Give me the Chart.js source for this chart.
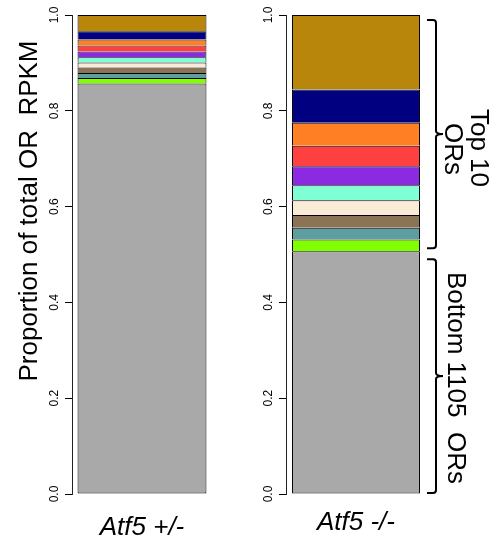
<!DOCTYPE html>
<html>
<head>
<meta charset="utf-8">
<script src="https://cdn.jsdelivr.net/npm/chart.js@4.4.1/dist/chart.umd.min.js"></script>
<style>
  body { margin: 0; background: #fff; }
  #wrap { position: relative; width: 502px; height: 545px; }
  canvas { position: absolute; top: 0; }
</style>
</head>
<body>
<div id="wrap">
  <canvas id="left" width="230" height="545" style="left:0"></canvas>
  <canvas id="right" width="272" height="545" style="left:230px"></canvas>
</div>
<script>
// bottom segment first, then the top 10 ORs from 10th up to 1st
const orGroups = ['Bottom 1105 ORs', 'OR 10', 'OR 9', 'OR 8', 'OR 7', 'OR 6', 'OR 5', 'OR 4', 'OR 3', 'OR 2', 'OR 1'];
const hetValues = [0.857, 0.0117, 0.0104, 0.0113, 0.0104, 0.011, 0.0119, 0.0125, 0.0125, 0.0173, 0.034];
const koValues = [0.507, 0.0244, 0.0242, 0.0271, 0.0307, 0.0313, 0.0397, 0.0424, 0.048, 0.0697, 0.1555];
const sampleLabels = ['Atf5 +/-', 'Atf5 -/-'];
const yTicks = [0, 0.2, 0.4, 0.6, 0.8, 1.0];

const orColors = ['#A9A9A9', '#7FFF00', '#5F9EA0', '#8B7355', '#FAEBD7', '#7FFFD4',
                  '#8A2BE2', '#FF4040', '#FF7F24', '#000080', '#B8860B'];
const FONT = "'Liberation Sans', Arial, sans-serif";

// R style rotated tick labels, drawn from the y scale
const yLabels = {
    id: 'yLabels',
    afterDraw(chart) {
        const ctx = chart.ctx, y = chart.scales.y;
        ctx.save();
        ctx.fillStyle = '#000';
        ctx.font = '12px ' + FONT;
        ctx.textAlign = 'center';
        ctx.textBaseline = 'middle';
        yTicks.forEach(v => {
            ctx.save();
            ctx.translate(chart.chartArea.left - 17, y.getPixelForValue(v));
            ctx.rotate(-Math.PI / 2);
            ctx.fillText(v.toFixed(1), 0, 0);
            ctx.restore();
        });
        ctx.restore();
    }
};

function rotText(ctx, txt, x, y, angle) {
    ctx.save();
    ctx.translate(x, y);
    ctx.rotate(angle);
    ctx.fillText(txt, 0, 0);
    ctx.restore();
}

const yTitle = {
    id: 'yTitle',
    afterDraw(chart) {
        const ctx = chart.ctx;
        ctx.save();
        ctx.fillStyle = '#000';
        ctx.font = '26px ' + FONT;
        ctx.textAlign = 'center';
        ctx.textBaseline = 'alphabetic';
        rotText(ctx, 'Proportion of total OR  RPKM', 37, 211, -Math.PI / 2);
        ctx.restore();
    }
};

function brace(ctx, x, y1, y2) {
    const r = 3, w = 9, tip = 7, ym = (y1 + y2) / 2;
    ctx.beginPath();
    ctx.moveTo(x - w, y1);
    ctx.lineTo(x - r, y1);
    ctx.quadraticCurveTo(x, y1, x, y1 + r);
    ctx.lineTo(x, ym - r);
    ctx.quadraticCurveTo(x, ym, x + tip, ym);
    ctx.quadraticCurveTo(x, ym, x, ym + r);
    ctx.lineTo(x, y2 - r);
    ctx.quadraticCurveTo(x, y2, x - r, y2);
    ctx.lineTo(x - w, y2);
    ctx.stroke();
}

const braces = {
    id: 'braces',
    afterDraw(chart) {
        const ctx = chart.ctx, y = chart.scales.y;
        const split = y.getPixelForValue(koValues[0]);
        const x = chart.chartArea.right + 10;
        ctx.save();
        ctx.strokeStyle = '#000';
        ctx.lineWidth = 2;
        brace(ctx, x, y.getPixelForValue(1) + 5, split - 3);
        brace(ctx, x, split + 8, y.getPixelForValue(0) - 1);
        ctx.fillStyle = '#000';
        ctx.font = '26px ' + FONT;
        ctx.textAlign = 'center';
        ctx.textBaseline = 'alphabetic';
        rotText(ctx, 'Top 10', x + 35, 148, Math.PI / 2);
        rotText(ctx, 'ORs', x + 9, 149, Math.PI / 2);
        rotText(ctx, 'Bottom 1105  ORs', x + 12, 378, Math.PI / 2);
        ctx.restore();
    }
};

function makeChart(id, label, values, axisW, rightPad, barPct, labelPad, extra) {
    return new Chart(document.getElementById(id), {
        type: 'bar',
        data: {
            labels: [label],
            datasets: orGroups.map((g, i) => ({
                label: g,
                data: [values[i]],
                backgroundColor: orColors[i],
                borderColor: '#000',
                borderWidth: 1,
                borderSkipped: i === 0 ? false : 'bottom',
                barPercentage: barPct,
                categoryPercentage: 1
            }))
        },
        options: {
            responsive: false,
            animation: false,
            layout: { padding: { top: 15, right: rightPad, left: 0, bottom: 0 } },
            plugins: { legend: { display: false }, tooltip: { enabled: false } },
            scales: {
                x: {
                    stacked: true,
                    grid: { display: false, drawTicks: false },
                    border: { display: false },
                    ticks: {
                        color: '#000',
                        padding: labelPad,
                        font: { family: FONT, size: 26, style: 'italic' }
                    },
                    afterFit: s => { s.height = 51; }
                },
                y: {
                    stacked: true,
                    min: 0,
                    max: 1,
                    ticks: { display: false, stepSize: 0.2 },
                    grid: { display: true, drawOnChartArea: false, drawTicks: true, tickLength: 7, color: '#000' },
                    border: { display: true, color: '#222', width: 1 },
                    afterFit: s => { s.width = axisW; }
                }
            }
        },
        plugins: [yLabels].concat(extra)
    });
}

makeChart('left', sampleLabels[0], hetValues, 72, 18, 0.921, 18, [yTitle]);
makeChart('right', sampleLabels[1], koValues, 56, 76, 0.914, 13, [braces]);
</script>
</body>
</html>
